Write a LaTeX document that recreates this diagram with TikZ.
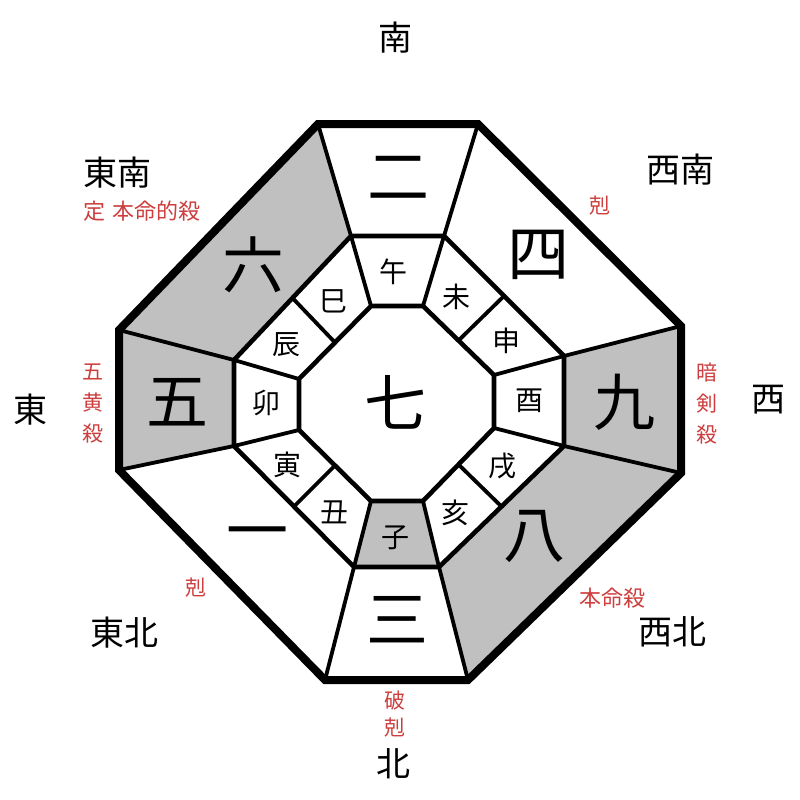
\documentclass[tikz,border=0pt]{standalone}
\usepackage{fontspec}
\usetikzlibrary{calc}
\newfontfamily\jpfont{Noto Sans CJK JP}
\definecolor{palegrey}{RGB}{192,192,192}
\definecolor{warn}{RGB}{205,62,62}
\tikzset{
  star/.style={font=\jpfont\fontsize{62}{62}\selectfont},
  branch/.style={font=\jpfont\fontsize{28}{28}\selectfont},
  compass/.style={font=\jpfont\fontsize{34}{34}\selectfont},
  note/.style={text=warn,font=\jpfont\fontsize{21}{31}\selectfont,align=center,inner sep=0pt},
  rim/.style={line width=8,line join=miter},
  ring/.style={line width=4.6},
  spoke/.style={line width=3.8}
}
\begin{document}
\begin{tikzpicture}[x=1pt,y=-1pt]
\useasboundingbox (0,0) rectangle (800,800);
\fill[white] (0,0) rectangle (800,800);

\coordinate (o1) at (318,124);
\coordinate (o2) at (478,124);
\coordinate (o3) at (681,326);
\coordinate (o4) at (681,473);
\coordinate (o5) at (468,680);
\coordinate (o6) at (325,680);
\coordinate (o7) at (119,470);
\coordinate (o8) at (119,330);

\coordinate (m1) at (351,236);
\coordinate (m2) at (444,236);
\coordinate (m3) at (564,356);
\coordinate (m4) at (564,446);
\coordinate (m5) at (439,567);
\coordinate (m6) at (354,567);
\coordinate (m7) at (234,446);
\coordinate (m8) at (234,360);

\coordinate (i1) at (371,306);
\coordinate (i2) at (423,306);
\coordinate (i3) at (494,375);
\coordinate (i4) at (494,428);
\coordinate (i5) at (423,501);
\coordinate (i6) at (371,501);
\coordinate (i7) at (299,430);
\coordinate (i8) at (299,379);

% grey palaces
\fill[palegrey] (o8) -- (o1) -- (m1) -- (m8) -- cycle;
\fill[palegrey] (o7) -- (o8) -- (m8) -- (m7) -- cycle;
\fill[palegrey] (o3) -- (o4) -- (m4) -- (m3) -- cycle;
\fill[palegrey] (o4) -- (o5) -- (m5) -- (m4) -- cycle;
\fill[palegrey] (i6) -- (i5) -- (m5) -- (m6) -- cycle;

\draw[spoke] (i1) -- (m1) -- (o1);
\draw[spoke] (i2) -- (m2) -- (o2);
\draw[spoke] (i3) -- (m3) -- (o3);
\draw[spoke] (i4) -- (m4) -- (o4);
\draw[spoke] (i5) -- (m5) -- (o5);
\draw[spoke] (i6) -- (m6) -- (o6);
\draw[spoke] (i7) -- (m7) -- (o7);
\draw[spoke] (i8) -- (m8) -- (o8);
\draw[spoke] ($(i2)!.5!(i3)$) -- ($(m2)!.5!(m3)$);
\draw[spoke] ($(i4)!.5!(i5)$) -- ($(m4)!.5!(m5)$);
\draw[spoke] ($(i6)!.5!(i7)$) -- ($(m6)!.5!(m7)$);
\draw[spoke] ($(i8)!.5!(i1)$) -- ($(m8)!.5!(m1)$);

\draw[ring] (m1) -- (m2) -- (m3) -- (m4) -- (m5) -- (m6) -- (m7) -- (m8) -- cycle;
\draw[ring] (i1) -- (i2) -- (i3) -- (i4) -- (i5) -- (i6) -- (i7) -- (i8) -- cycle;
\draw[rim] (o1) -- (o2) -- (o3) -- (o4) -- (o5) -- (o6) -- (o7) -- (o8) -- cycle;

% stars
\node[star] (s7) at (395,402) {七};
\node[star] (s2) at (398,178) {二};
\node[star] (s4) at (538,255) {四};
\node[star] (s9) at (624,402) {九};
\node[star] (s8) at (534,536) {八};
\node[star] (s3) at (397,620) {三};
\node[star] (s1) at (257,540) {一};
\node[star] (s5) at (177,402) {五};
\node[star] (s6) at (253,265) {六};

% branches
\node[branch] (b1) at (393,272) {午};
\node[branch] (b2) at (456,297) {未};
\node[branch] (b3) at (506,341) {申};
\node[branch] (b4) at (529,401) {酉};
\node[branch] (b5) at (502,466) {戌};
\node[branch] (b6) at (455,513) {亥};
\node[branch] (b7) at (395,538) {子};
\node[branch] (b8) at (334,512) {丑};
\node[branch] (b9) at (287,465) {寅};
\node[branch] (b10) at (266,403) {卯};
\node[branch] (b11) at (286,345) {辰};
\node[branch] (b12) at (333,301) {巳};

% directions
\node[compass] (south) at (395,38) {南};
\node[compass] (north) at (393,764) {北};
\node[compass] (east) at (30,410) {東};
\node[compass] (west) at (768,400) {西};
\node[compass] (se) at (117,173) {東南};
\node[compass] (sw) at (680,170) {西南};
\node[compass] (ne) at (124,633) {東北};
\node[compass] (nw) at (672,632) {西北};

% notes
\node[note,font=\jpfont\fontsize{22}{22}\selectfont] (nse) at (142,211) {定\,\,本命的殺};
\node[note] (nsw) at (600,206) {剋};
\node[note] (neast) at (93,404) {五\\黄\\殺};
\node[note] (nwest) at (707,404) {暗\\剣\\殺};
\node[note] (nne) at (196,588) {剋};
\node[note,font=\jpfont\fontsize{22}{22}\selectfont] (nnw) at (612,598) {本命殺};
\node[note,font=\jpfont\fontsize{21}{27}\selectfont] (nnorth) at (395,714) {破\\剋};
\end{tikzpicture}
\end{document}
